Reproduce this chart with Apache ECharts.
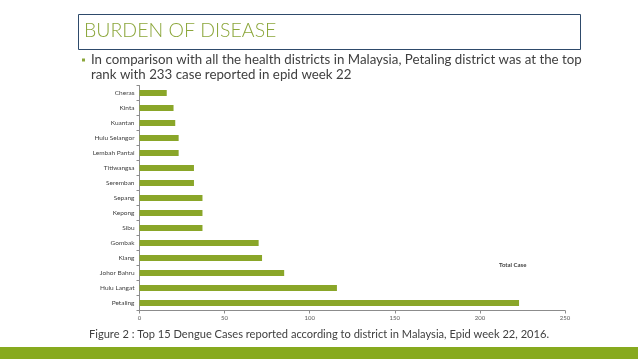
<!DOCTYPE html>
<html><head><meta charset="utf-8">
<script src="https://cdn.jsdelivr.net/npm/echarts@6/dist/echarts.min.js"></script>
<style>html,body{margin:0;padding:0;background:#fff}#c{width:638px;height:359px}</style>
</head><body><div id="c"></div>
<script>
const districts = ['Petaling','Hulu Langat','Johor Bahru','Klang','Gombak','Sibu','Kepong','Sepang','Seremban','Titiwangsa','Lembah Pantai','Hulu Selangor','Kuantan','Kinta','Cheras'];
const totalCase = [223,116,85,72,70,37,37,37,32,32,23,23,21,20,16];
const xTicks = [0,50,100,150,200,250];

const chart = echarts.init(document.getElementById('c'), null, {renderer:'canvas'});
const font = 'Lato, "Open Sans", sans-serif';
chart.setOption({
  animation:false,
  backgroundColor:'#fff',
  grid:{left:139.5,right:73,top:85.5,bottom:48.5,containLabel:false},
  xAxis:{type:'value',min:xTicks[0],max:xTicks[xTicks.length-1],interval:50,
    axisLine:{show:true,lineStyle:{color:'#8c8c8c',width:1}},
    axisTick:{show:true,length:3,lineStyle:{color:'#8c8c8c'}},
    splitLine:{show:false},
    axisLabel:{fontSize:6,color:'#595959',fontFamily:font,margin:5}},
  yAxis:{type:'category',data:districts,
    axisLine:{show:true,lineStyle:{color:'#8c8c8c',width:1}},
    axisTick:{show:true,length:3,lineStyle:{color:'#8c8c8c'}},
    axisLabel:{fontSize:6.5,color:'#404040',fontFamily:font,margin:5}},
  series:[{type:'bar',name:'Total Case',data:totalCase,barWidth:6,itemStyle:{color:'#8aa629'}}],
  graphic:[
    {type:'rect',shape:{x:78.5,y:14.5,width:502,height:35},style:{fill:'none',stroke:'#2e4a6b',lineWidth:1}},
    {type:'text',left:84,top:21,style:{text:'BURDEN OF DISEASE',font:'300 19.5px '+font,fill:'#8ba63a'}},
    {type:'rect',shape:{x:82,y:58.5,width:3,height:3},style:{fill:'#8ba63a'}},
    {type:'text',left:91,top:52.5,style:{text:'In comparison with all the health districts in Malaysia, Petaling district was at the top\nrank with 233 case reported in epid week 22',font:'13.3px '+font,fill:'#404040',lineHeight:15}},
    {type:'text',left:499,top:262,style:{text:'Total Case',font:'bold 6px '+font,fill:'#404040'}},
    {type:'text',left:89,top:329,style:{text:'Figure 2 : Top 15 Dengue Cases reported according to district in Malaysia, Epid week 22, 2016.',font:'11.1px '+font,fill:'#404040'}},
    {type:'rect',shape:{x:0,y:347,width:638,height:12},style:{fill:'#87aa1e'}}
  ]
});
</script></body></html>
